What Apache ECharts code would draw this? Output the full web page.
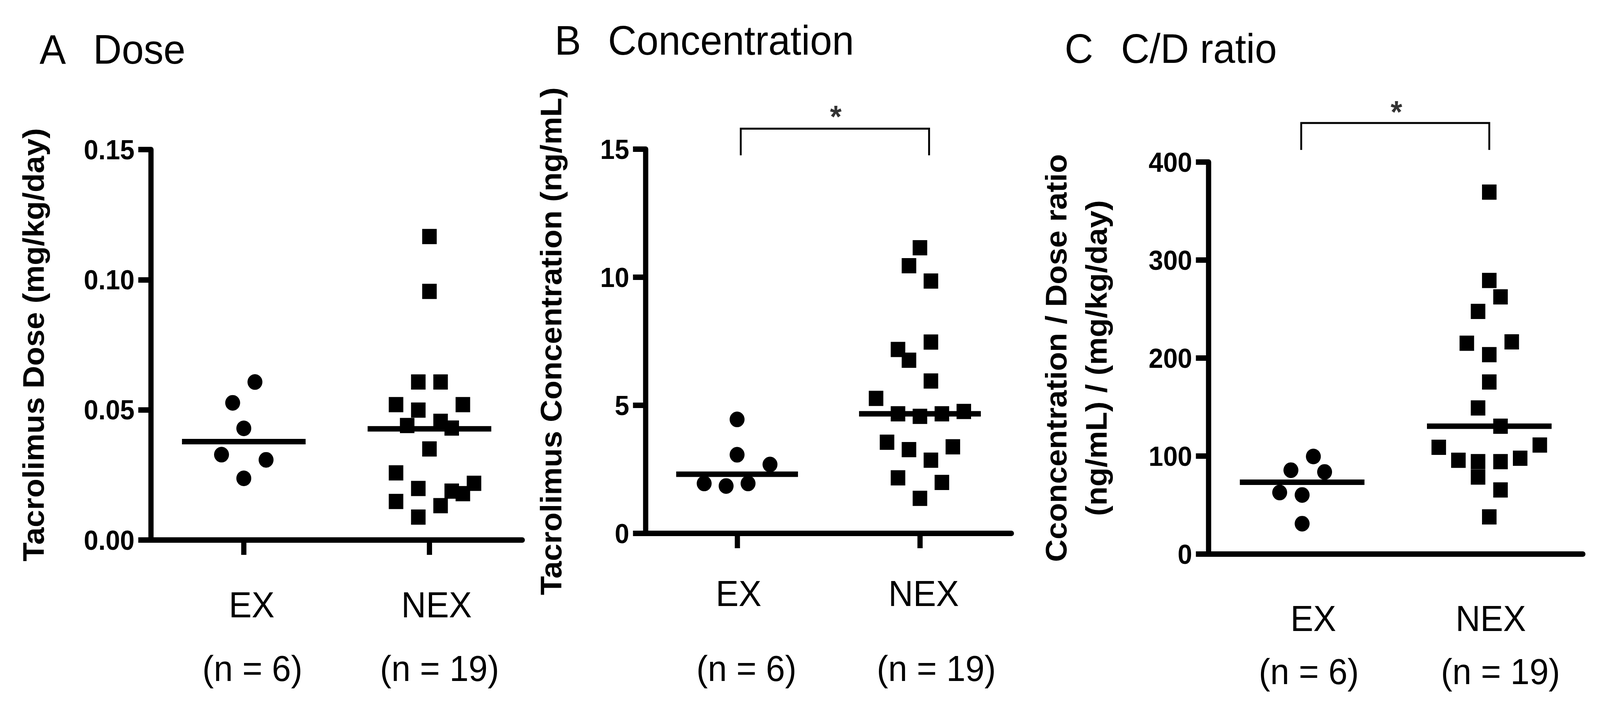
<!DOCTYPE html>
<html><head><meta charset="utf-8">
<script src="https://cdn.jsdelivr.net/npm/echarts@6/dist/echarts.min.js"></script>
<style>html,body{margin:0;padding:0;background:#fff;overflow:hidden}#c{position:absolute;left:0;top:0;width:4292px;height:1826px;transform-origin:0 0}</style>
</head><body><div id="c"></div>
<script>
// ---- data ----
const categories = ['EX', 'NEX'];
const groupSizes = ['(n = 6)', '(n = 19)'];
const panelLetters = ['A', 'B', 'C'];
const panelTitles = ['Dose', 'Concentration', 'C/D ratio'];
const yAxisTitles = [
  'Tacrolimus Dose (mg/kg/day)',
  'Tacrolimus Concentration (ng/mL)',
  'Cconcentration / Dose ratio\n(ng/mL) / (mg/kg/day)'
];
const yTicksDose = [0, 0.15, 0.05];
const yTicksConc = [0, 15, 5];
const yTicksRatio = [0, 400, 100];

const doseEX = [0.0607, 0.0527, 0.0429, 0.0328, 0.0308, 0.0237];
const doseEXJitter = [0.06, -0.06, 0, -0.12, 0.12, 0];
const doseNEX = [0.1166, 0.0955, 0.0607, 0.0607, 0.0520, 0.0520, 0.0499, 0.0440, 0.0456, 0.0430, 0.0350, 0.0258, 0.0198, 0.0218, 0.0188, 0.0178, 0.0148, 0.0132, 0.0088];
const doseNEXJitter = [0, 0, -0.06, 0.06, -0.18, 0.18, -0.06, -0.12, 0.06, 0.12, 0, -0.18, -0.06, 0.24, 0.12, 0.18, -0.18, 0.06, -0.06];
const doseMeans = [0.0378, 0.0427];

const concEX = [4.45, 3.07, 2.69, 1.95, 1.85, 1.95];
const concEXJitter = [0, 0, 0.18, -0.18, -0.06, 0.06];
const concNEX = [11.15, 10.45, 9.85, 7.18, 7.47, 6.76, 5.95, 5.27, 4.67, 4.57, 4.67, 4.76, 3.56, 3.27, 3.38, 2.86, 2.17, 1.99, 1.37];
const concNEXJitter = [0, -0.06, 0.06, -0.12, 0.06, -0.06, 0.06, -0.24, -0.12, 0, 0.12, 0.24, -0.18, -0.06, 0.18, 0.06, -0.12, 0.12, 0];
const concMeans = [2.31, 4.67];
const concBracket = [[1.02, 14.76], [1.02, 15.8], [2.05, 15.8], [2.05, 14.76]];
const concStar = [1.54, 16.28];

const ratioEX = [99.6, 85.6, 83.8, 62.8, 60.3, 31.0];
const ratioEXJitter = [0.06, -0.06, 0.12, -0.12, 0, 0];
const ratioNEX = [369.3, 279.2, 262.5, 247.6, 215.1, 216.5, 203.5, 175.6, 149.1, 130.5, 109.0, 111.3, 95.7, 94.3, 94.3, 97.8, 78.6, 65.4, 37.9];
const ratioNEXJitter = [0, 0, 0.06, -0.06, -0.12, 0.12, 0, 0, -0.06, 0.06, -0.27, 0.27, -0.165, -0.06, 0.06, 0.165, -0.06, 0.06, 0];
const ratioMeans = [73.3, 130.5];
const ratioBracket = [[0.995, 412.4], [0.995, 439.8], [2.0, 439.8], [2.0, 412.4]];
const ratioStar = [1.504, 451.4];

// ---- layout / style (4292 x 1826 design canvas, fitted to the viewport) ----
const W0 = 4292, H0 = 1826;
const FONT = '"Liberation Sans", Arial, Helvetica, sans-serif';
const grids = [
  { left: 405, top: 383, width: 996, height: 1000 },
  { left: 1732, top: 382, width: 981, height: 984 },
  { left: 3242, top: 415, width: 1004, height: 1004 }
];
const yNameGaps = [262, 200, 248];
const xLabelMargins = [85, 58, 97];
const xLabelLineHeights = [163, 192, 136];
// horizontal nudges of the x labels: [panel][category][line]
const xLabelShift = [
  [[21, 23], [19, 27]],
  [[4, 25], [10, 44]],
  [[30, 18], [4, 30]]
];
const xTicksShown = [true, true, false];
const titlePos = [
  { lx: 106, tx: 250, y: 126 },
  { lx: 1488, tx: 1631, y: 103 },
  { lx: 2856, tx: 3007, y: 124 }
];
const AXIS_W = 14;
const MEAN_HALF = 0.333;

const yTicks = [yTicksDose, yTicksConc, yTicksRatio];
const groups = [
  [doseEX, doseEXJitter, doseNEX, doseNEXJitter, doseMeans, null, null],
  [concEX, concEXJitter, concNEX, concNEXJitter, concMeans, concBracket, concStar],
  [ratioEX, ratioEXJitter, ratioNEX, ratioNEXJitter, ratioMeans, ratioBracket, ratioStar]
];

const xAxes = [], yAxes = [], series = [], graphic = [];
grids.forEach((g, i) => {
  const lh = xLabelLineHeights[i];
  const rich = {};
  [0, 1].forEach(c => {
    ['a', 'b'].forEach((k, line) => {
      rich[k + c] = {
        fontSize: 92, fontFamily: FONT, color: '#000', lineHeight: lh,
        padding: [0, 0, 0, 2 * xLabelShift[i][c][line]]
      };
    });
  });
  xAxes.push({
    gridIndex: i, type: 'value', min: 0.5, max: 2.5,
    splitLine: { show: false },
    axisLine: { show: true, onZero: false, lineStyle: { color: '#000', width: AXIS_W } },
    axisTick: { show: xTicksShown[i], customValues: [1, 2], length: 38, lineStyle: { color: '#000', width: AXIS_W } },
    axisLabel: {
      customValues: [1, 2], margin: xLabelMargins[i], color: '#000',
      formatter: v => {
        const c = Math.round(v) - 1;
        return '{a' + c + '|' + categories[c] + '}\n{b' + c + '|' + groupSizes[c] + '}';
      },
      rich: rich
    }
  });
  const t = yTicks[i];
  yAxes.push({
    gridIndex: i, type: 'value', min: t[0], max: t[1], interval: t[2],
    splitLine: { show: false },
    axisLine: { show: true, onZero: false, lineStyle: { color: '#000', width: AXIS_W } },
    axisTick: { show: true, length: 34, lineStyle: { color: '#000', width: AXIS_W } },
    axisLabel: {
      margin: 44, color: '#000', fontSize: 70, fontWeight: 'bold', fontFamily: FONT,
      formatter: v => i === 0 ? v.toFixed(2) : String(v)
    },
    name: yAxisTitles[i], nameLocation: 'middle', nameRotate: 90, nameGap: yNameGaps[i],
    nameTextStyle: { fontSize: 80, fontWeight: 'bold', fontFamily: FONT, color: '#000', lineHeight: 107, align: 'center' }
  });
  const [exV, exJ, nexV, nexJ, means, bracket, star] = groups[i];
  series.push({
    type: 'scatter', xAxisIndex: i, yAxisIndex: i, symbol: 'circle', symbolSize: 40,
    itemStyle: { color: '#000', opacity: 1 }, silent: true,
    data: exV.map((v, k) => [1 + exJ[k], v])
  });
  series.push({
    type: 'scatter', xAxisIndex: i, yAxisIndex: i, symbol: 'rect', symbolSize: 39,
    itemStyle: { color: '#000', opacity: 1 }, silent: true,
    data: nexV.map((v, k) => [2 + nexJ[k], v])
  });
  means.forEach((m, k) => {
    series.push({
      type: 'line', xAxisIndex: i, yAxisIndex: i, symbol: 'none', silent: true,
      lineStyle: { color: '#000', width: AXIS_W },
      data: [[k + 1 - MEAN_HALF, m], [k + 1 + MEAN_HALF, m]]
    });
  });
  if (bracket) {
    series.push({
      type: 'line', xAxisIndex: i, yAxisIndex: i, symbol: 'none', silent: true, clip: false,
      lineStyle: { color: '#000', width: 5, join: 'miter' },
      data: bracket
    });
    series.push({
      type: 'scatter', xAxisIndex: i, yAxisIndex: i, symbolSize: 1, silent: true, clip: false,
      itemStyle: { color: 'rgba(0,0,0,0)' },
      label: { show: true, position: 'inside', formatter: '*', fontSize: 80, fontWeight: 'bold', fontFamily: FONT, color: '#000' },
      data: [star]
    });
  }
  const tp = titlePos[i];
  graphic.push({ type: 'text', x: tp.lx, y: tp.y, style: { text: panelLetters[i], fontSize: 106, fontFamily: FONT, fill: '#000', verticalAlign: 'middle', align: 'left' } });
  graphic.push({ type: 'text', x: tp.tx, y: tp.y, style: { text: panelTitles[i], fontSize: 106, fontFamily: FONT, fill: '#000', verticalAlign: 'middle', align: 'left' } });
});

const el = document.getElementById('c');
const sx = (window.innerWidth || W0) / W0, sy = (window.innerHeight || H0) / H0;
el.style.transform = 'scale(' + sx + ',' + sy + ')';
const chart = echarts.init(el, null, { renderer: 'svg', width: W0, height: H0 });
chart.setOption({
  animation: false,
  backgroundColor: '#fff',
  grid: grids,
  xAxis: xAxes,
  yAxis: yAxes,
  series: series,
  graphic: graphic
});
</script></body></html>
